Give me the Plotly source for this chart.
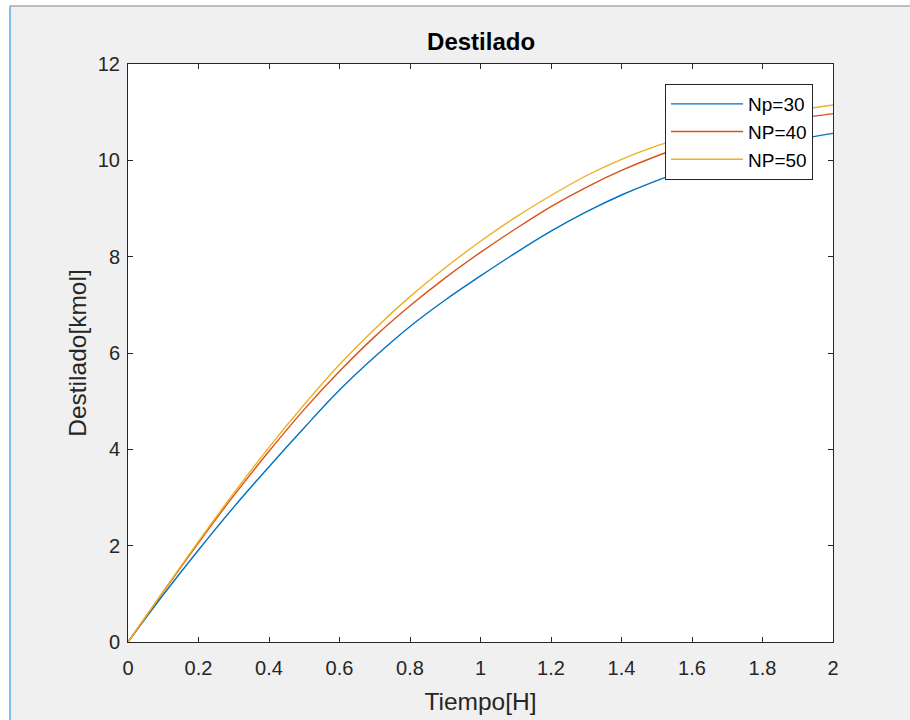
import plotly.graph_objects as go

tiempo = [0.0, 0.1, 0.2, 0.3, 0.4, 0.5, 0.6, 0.7, 0.8, 0.9, 1.0,
          1.1, 1.2, 1.3, 1.4, 1.5, 1.6, 1.7, 1.8, 1.9, 2.0]
np30 = [0.0, 0.98, 1.91, 2.80, 3.64, 4.45, 5.23, 5.92, 6.55, 7.10, 7.60,
        8.08, 8.53, 8.93, 9.28, 9.58, 9.84, 10.07, 10.27, 10.43, 10.56]
np40 = [0.0, 1.04, 2.06, 3.04, 3.96, 4.83, 5.62, 6.34, 6.98, 7.56, 8.09,
        8.58, 9.04, 9.44, 9.79, 10.09, 10.35, 10.56, 10.74, 10.87, 10.97]
np50 = [0.0, 1.05, 2.09, 3.09, 4.04, 4.93, 5.76, 6.50, 7.17, 7.77, 8.32,
        8.82, 9.27, 9.68, 10.02, 10.30, 10.53, 10.73, 10.90, 11.04, 11.15]
names = ["Np=30", "NP=40", "NP=50"]
colors = ["#0072BD", "#D95319", "#EDB120"]
xticks = [0, 0.2, 0.4, 0.6, 0.8, 1, 1.2, 1.4, 1.6, 1.8, 2]
xtick_text = ["0", "0.2", "0.4", "0.6", "0.8", "1", "1.2", "1.4", "1.6", "1.8", "2"]
yticks = [0, 2, 4, 6, 8, 10, 12]

FONT = "Liberation Sans, Arial, Helvetica, sans-serif"
AX = "#262626"

fig = go.Figure()
for ys, nm, c in zip([np30, np40, np50], names, colors):
    fig.add_trace(go.Scatter(x=tiempo, y=ys, name=nm, mode="lines",
                             line=dict(color=c, width=1.4, shape="spline")))

axis_common = dict(showgrid=False, zeroline=False, showline=True, linecolor=AX,
                   linewidth=1, mirror="ticks", ticks="inside", ticklen=5,
                   tickcolor=AX, tickwidth=1,
                   tickfont=dict(family=FONT, size=20, color=AX))

fig.update_layout(
    width=910, height=720,
    paper_bgcolor="#f0f0f0", plot_bgcolor="white",
    margin=dict(l=128, r=77, t=64, b=78, autoexpand=False),
    title=dict(text="<b>Destilado</b>", x=0.5287, xanchor="center",
               y=1 - 42 / 720, yanchor="middle",
               font=dict(family=FONT, size=24, color="black")),
    xaxis=dict(range=[0, 2], tickvals=xticks, ticktext=xtick_text,
               ticklabelstandoff=8,
               title=dict(text="Tiempo[H]", standoff=14,
                          font=dict(family=FONT, size=24.5, color=AX)),
               **axis_common),
    yaxis=dict(range=[0, 12], tickvals=yticks,
               ticklabelstandoff=3,
               title=dict(text="Destilado[kmol]", standoff=4,
                          font=dict(family=FONT, size=24.5, color=AX)),
               **axis_common),
    legend=dict(x=(813 - 128) / 705, xanchor="right",
                y=(642 - 84) / 578, yanchor="top",
                bgcolor="white", bordercolor=AX, borderwidth=1,
                itemwidth=72,
                font=dict(family=FONT, size=19, color="black")),
    showlegend=True,
    shapes=[
        dict(type="rect", xref="paper", yref="paper",
             x0=-128 / 705, x1=(9.5 - 128) / 705, y0=-78 / 578, y1=(642) / 578 + 1,
             fillcolor="white", line=dict(width=0), layer="above"),
        dict(type="rect", xref="paper", yref="paper",
             x0=-128 / 705, x1=(910 - 128) / 705, y0=(642 - 6) / 578, y1=(642) / 578 + 0.2,
             fillcolor="white", line=dict(width=0), layer="above"),
        dict(type="line", xref="paper", yref="paper",
             x0=(10 - 128) / 705, x1=(10 - 128) / 705, y0=-78 / 578, y1=(642 - 6) / 578,
             line=dict(color="#5aaeea", width=1.5), layer="above"),
        dict(type="line", xref="paper", yref="paper",
             x0=(10 - 128) / 705, x1=(910 - 128) / 705, y0=(642 - 6) / 578, y1=(642 - 6) / 578,
             line=dict(color="#a8a8a8", width=1.5), layer="above"),
    ],
)

fig.write_html("out.html", config={"displayModeBar": False},
               post_script="document.body.style.margin='0';document.body.style.overflow='hidden';")
